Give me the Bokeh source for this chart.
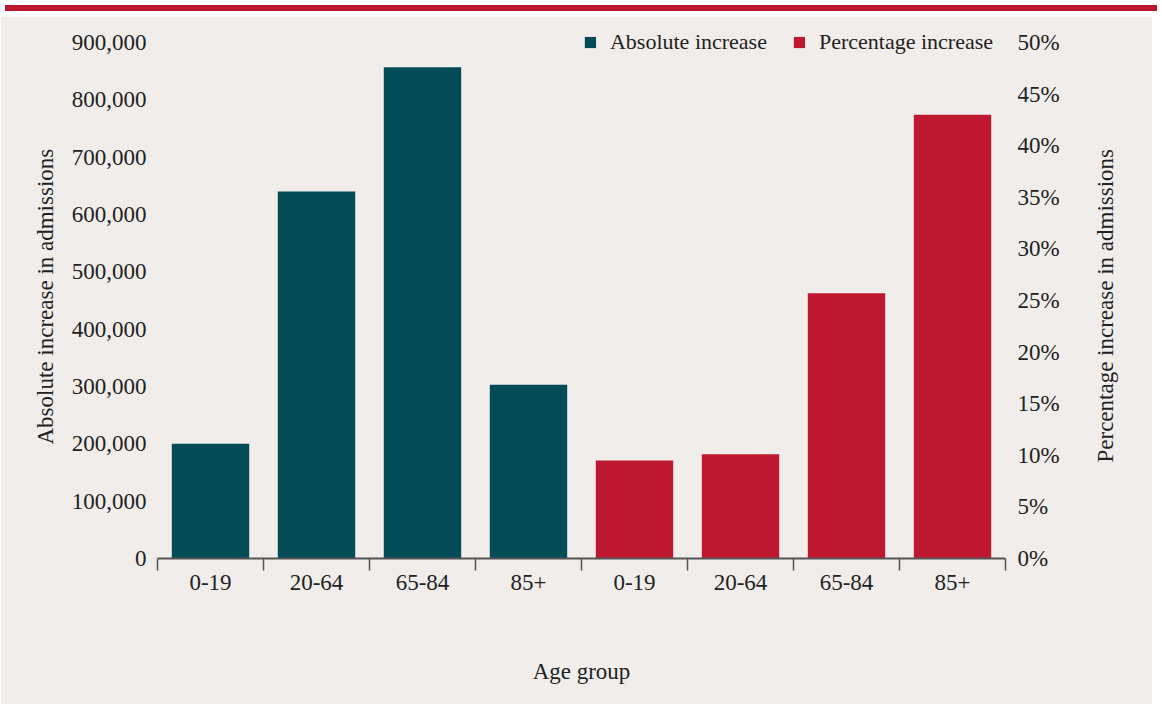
import math
from bokeh.plotting import figure
from bokeh.models import (Range1d, LinearAxis, FixedTicker, NumeralTickFormatter,
                          PrintfTickFormatter, Legend, LegendItem, Div, ColumnDataSource, Title)
from bokeh.layouts import column
from bokeh.embed import file_html
from bokeh.resources import INLINE

# ---- data ----
age_groups = ["0-19", "20-64", "65-84", "85+"]
absolute_increase = [200000, 640000, 857000, 303000]
percentage_increase = [9.5, 10.1, 25.7, 43.0]
abs_ticks = [0, 100000, 200000, 300000, 400000, 500000, 600000, 700000, 800000, 900000]
pct_ticks = [0, 5, 10, 15, 20, 25, 30, 35, 40, 45, 50]
series_names = ["Absolute increase", "Percentage increase"]
x_title = "Age group"
y_left_title = "Absolute increase in admissions"
y_right_title = "Percentage increase in admissions"

# ---- style / layout ----
BG = "#F0EDEA"
TEAL = "#024B57"
RED = "#BE1830"
TXT = "#222222"
AX = "#555555"
FONT = "Liberation Serif"
FS = "23px"

W = 1152
H = 688
FRAME_H = 541          # frame height in px
SCALE_H = 516          # px covered by 0..max tick
BL = 157
FRAME_W = 848
LEFT_TITLE_OFFSET = 114     # px from frame bottom where left title starts
RIGHT_TITLE_START = 9.3     # position (in % scale) where right title starts
n = len(age_groups)

labels_all = age_groups + age_groups
x_abs = [i + 0.5 for i in range(n)]
x_pct = [n + i + 0.5 for i in range(n)]

y_top_abs = abs_ticks[-1] * FRAME_H / SCALE_H
y_top_pct = pct_ticks[-1] * FRAME_H / SCALE_H

p = figure(width=W, height=H, output_backend="svg", toolbar_location=None,
           x_range=Range1d(0, 2 * n), y_range=Range1d(0, y_top_abs),
           min_border_left=BL, min_border_right=W - BL - FRAME_W,
           min_border_top=1, min_border_bottom=H - 1 - FRAME_H)
p.extra_y_ranges = {"pct": Range1d(0, y_top_pct)}

p.background_fill_color = BG
p.border_fill_color = BG
p.outline_line_color = None
p.grid.visible = False

src_abs = ColumnDataSource(dict(x=x_abs, top=absolute_increase))
src_pct = ColumnDataSource(dict(x=x_pct, top=percentage_increase))
r1 = p.vbar(x="x", top="top", width=0.73, source=src_abs, fill_color=TEAL, line_color=None)
r2 = p.vbar(x="x", top="top", width=0.73, source=src_pct, fill_color=RED, line_color=None,
            y_range_name="pct")

# x axis
xa = p.xaxis[0]
xa.ticker = FixedTicker(ticks=x_abs + x_pct, minor_ticks=list(range(0, 2 * n + 1)))
xa.major_label_overrides = {x: lab for x, lab in zip(x_abs + x_pct, labels_all)}
xa.major_tick_line_color = None
xa.major_tick_out = 0
xa.major_tick_in = 0
xa.minor_tick_line_color = AX
xa.minor_tick_line_width = 1.5
xa.minor_tick_out = 12
xa.minor_tick_in = 0
xa.axis_line_color = AX
xa.axis_line_width = 2
xa.major_label_standoff = 4
xa.axis_label = x_title
xa.axis_label_standoff = 66
xa.axis_label_text_font_style = "normal"

# left axis
ya = p.yaxis[0]
ya.ticker = FixedTicker(ticks=abs_ticks)
ya.formatter = NumeralTickFormatter(format="0,0")
ya.axis_line_color = None
ya.major_tick_line_color = None
ya.minor_tick_line_color = None
ya.major_tick_out = 0
ya.major_label_standoff = 11

# right axis
ra = LinearAxis(y_range_name="pct", ticker=FixedTicker(ticks=pct_ticks),
                formatter=PrintfTickFormatter(format="%d%%"))
ra.axis_line_color = None
ra.major_tick_line_color = None
ra.minor_tick_line_color = None
ra.major_tick_out = 0
ra.major_label_standoff = 12
p.add_layout(ra, "right")

# right axis title (reads bottom-to-top)
ra2 = LinearAxis(y_range_name="pct", ticker=FixedTicker(ticks=[RIGHT_TITLE_START]),
                 major_label_overrides={RIGHT_TITLE_START: y_right_title},
                 major_label_orientation=math.pi / 2)
ra2.axis_line_color = None
ra2.major_tick_line_color = None
ra2.minor_tick_line_color = None
ra2.major_tick_out = 0
ra2.major_label_standoff = 43
p.add_layout(ra2, "right")

for ax in [xa, ya, ra, ra2]:
    ax.major_label_text_font = FONT
    ax.major_label_text_font_size = FS
    ax.major_label_text_color = TXT
    ax.axis_label_text_font = FONT
    ax.axis_label_text_font_size = FS
    ax.axis_label_text_color = TXT

# left axis title
lt = Title(text=y_left_title, align="left", offset=LEFT_TITLE_OFFSET,
           text_font=FONT, text_font_size=FS, text_font_style="normal",
           text_color=TXT, standoff=22)
p.add_layout(lt, "left")

legend = Legend(items=[LegendItem(label=series_names[0], renderers=[r1]),
                       LegendItem(label=series_names[1], renderers=[r2])],
                location="top_right", orientation="horizontal")
legend.glyph_width = 14
legend.glyph_height = 14
legend.label_standoff = 13
legend.spacing = 25
legend.padding = 0
legend.margin = 12
legend.background_fill_alpha = 0
legend.border_line_color = None
legend.label_text_font = FONT
legend.label_text_font_size = "22px"
legend.label_text_color = TXT
p.add_layout(legend, "center")

band = Div(text="", width=W, height=6, styles={"background-color": RED})
layout = column(band, p, spacing=0)

open("out.html", "w").write(file_html(layout, INLINE))
